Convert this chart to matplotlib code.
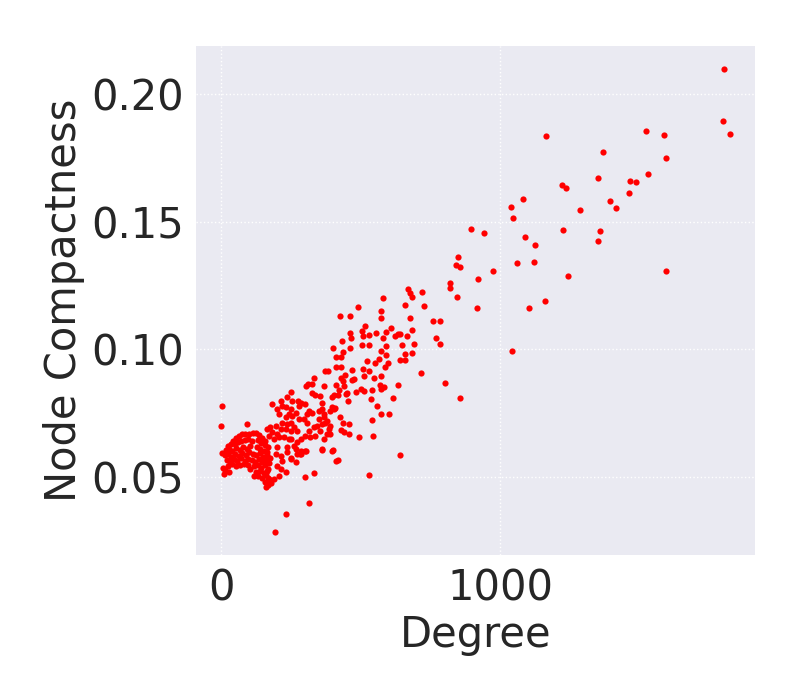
import matplotlib
matplotlib.use("Agg")
import matplotlib.pyplot as plt
import numpy as np

# --- data (Degree, Node Compactness) ---
high_x = [1801, 1798, 1823, 1522, 1587, 1594, 1368, 1350, 1529, 1465, 1486, 1461,
          1393, 1415, 1285, 1358, 1350, 1594, 1165, 1221, 1236, 1082, 1039, 1046,
          1225, 896, 943, 1090, 1125, 1060, 1122, 1243, 850, 842, 857, 975, 921,
          818, 821, 846, 1161, 1104, 918, 670, 675, 685, 721, 660, 725, 678, 757,
          785, 682, 664, 768, 641, 647, 689, 785, 657, 685, 657, 641, 1043, 717,
          800, 857]
high_y = [0.2098, 0.1895, 0.1844, 0.1856, 0.1837, 0.1747, 0.1774, 0.1669, 0.1685,
          0.1657, 0.1654, 0.1611, 0.1580, 0.1552, 0.1546, 0.1463, 0.1424, 0.1307,
          0.1833, 0.1642, 0.1630, 0.1587, 0.1557, 0.1513, 0.1466, 0.1470, 0.1455,
          0.1439, 0.1408, 0.1338, 0.1342, 0.1287, 0.1361, 0.1330, 0.1322, 0.1307,
          0.1276, 0.1260, 0.1240, 0.1205, 0.1190, 0.1163, 0.1163, 0.1238, 0.1221,
          0.1205, 0.1225, 0.1174, 0.1170, 0.1124, 0.1112, 0.1112, 0.1077, 0.1053,
          0.1046, 0.1061, 0.1018, 0.1022, 0.1022, 0.0983, 0.0987, 0.0960, 0.0960,
          0.0995, 0.0909, 0.0870, 0.0808]

mid_x = [578, 489, 571, 571, 424, 460, 514, 607, 503, 553, 589, 635, 624, 460, 463,
         506, 531, 578, 431, 503, 528, 589, 399, 460, 574, 435, 589, 410, 428, 564,
         521, 549, 596, 585, 410, 428, 467, 506, 528, 442, 510, 546, 571, 428, 435,
         467, 474, 410, 438, 567, 571, 582, 632, 421, 499, 510, 539, 481, 446, 403,
         396, 417, 614, 535, 453, 396, 406, 557, 424, 571, 600, 539, 435, 456, 428,
         438, 456, 492, 542, 391, 391, 400, 410, 417, 639, 528]
mid_y = [0.1201, 0.1166, 0.1151, 0.1124, 0.1131, 0.1131, 0.1092, 0.1085, 0.1073,
         0.1065, 0.1069, 0.1061, 0.1053, 0.1065, 0.1046, 0.1053, 0.1057, 0.1046,
         0.1034, 0.1018, 0.1018, 0.1014, 0.1007, 0.1007, 0.0995, 0.0991, 0.0979,
         0.0972, 0.0972, 0.0964, 0.0956, 0.0948, 0.0948, 0.0933, 0.0933, 0.0933,
         0.0921, 0.0925, 0.0917, 0.0901, 0.0897, 0.0890, 0.0894, 0.0890, 0.0878,
         0.0882, 0.0886, 0.0862, 0.0855, 0.0862, 0.0847, 0.0851, 0.0859, 0.0843,
         0.0847, 0.0839, 0.0843, 0.0835, 0.0827, 0.0820, 0.0812, 0.0820, 0.0808,
         0.0804, 0.0800, 0.0773, 0.0769, 0.0777, 0.0734, 0.0749, 0.0746, 0.0722,
         0.0714, 0.0710, 0.0683, 0.0675, 0.0668, 0.0656, 0.0660, 0.0699, 0.0668,
         0.0605, 0.0562, 0.0566, 0.0586, 0.0508]

sparse_x = [2, 0, 192, 231, 313, 299, 331, 92, 2, 4, 9, 161, 179, 117, 168, 180, 213,
            248, 360, 303, 266, 248, 281]
sparse_y = [0.0777, 0.0699, 0.0286, 0.0356, 0.0399, 0.0500, 0.0516, 0.0708, 0.0594,
            0.0536, 0.0513, 0.0461, 0.0477, 0.0504, 0.0497, 0.0788, 0.0799, 0.0834,
            0.0606, 0.0602, 0.0558, 0.0575, 0.0590]

low_x = [371, 381, 331, 310, 325, 304, 367, 253, 325, 337, 355, 361, 451, 274, 284,
         278, 301, 313, 325, 307, 349, 361, 367, 391, 403, 248, 253, 266, 278, 295,
         307, 248, 260, 272, 248, 313, 331, 343, 361, 373, 349, 367, 379, 385, 379,
         367, 355, 337, 319, 301, 284, 272, 248, 260, 266, 284, 301, 361, 397, 272,
         284, 248,
         236, 218, 200, 206, 230, 242, 230, 218, 236, 230, 212, 194, 176, 164, 182,
         200, 170, 188, 206, 224, 242, 236, 200, 194, 212, 236, 230, 212, 200, 218,
         206, 188]
low_y = [0.0915, 0.0915, 0.0890, 0.0864, 0.0864, 0.0857, 0.0855, 0.0799, 0.0831,
         0.0821, 0.0818, 0.0792, 0.0831, 0.0799, 0.0792, 0.0779, 0.0786, 0.0760,
         0.0753, 0.0747, 0.0760, 0.0766, 0.0747, 0.0760, 0.0766, 0.0766, 0.0740,
         0.0753, 0.0727, 0.0727, 0.0714, 0.0714, 0.0695, 0.0682, 0.0682, 0.0682,
         0.0695, 0.0701, 0.0708, 0.0714, 0.0727, 0.0734, 0.0721, 0.0688, 0.0669,
         0.0649, 0.0682, 0.0662, 0.0656, 0.0662, 0.0649, 0.0636, 0.0649, 0.0623,
         0.0610, 0.0604, 0.0604, 0.0610, 0.0604, 0.0591, 0.0591, 0.0571,
         0.0814, 0.0779, 0.0766, 0.0749, 0.0773, 0.0747, 0.0734, 0.0714, 0.0708,
         0.0688, 0.0688, 0.0701, 0.0695, 0.0688, 0.0675, 0.0669, 0.0662, 0.0649,
         0.0656, 0.0656, 0.0649, 0.0617, 0.0617, 0.0591, 0.0584, 0.0597, 0.0519,
         0.0532, 0.0545, 0.0565, 0.0506, 0.0494]

# dense cluster at small degree
blob_x = [40, 52, 63, 74, 86, 99, 112, 124, 136, 147, 156,
          22, 33, 47, 60, 71, 84, 97, 108, 131, 143, 158, 168,
          15, 27, 39, 52, 66, 79, 91, 104, 128, 140, 152, 165,
          12, 24, 36, 49, 62, 75, 88, 100, 113, 125, 137, 149, 162, 174,
          19, 31, 44, 57, 70, 83, 96, 109, 121, 134, 146, 159, 171,
          23, 37, 52, 66, 81, 95, 118, 131, 143, 156, 168,
          14, 28, 104, 124, 139, 152, 165,
          131, 147, 160, 171,
          155, 167, 174]
blob_y = [0.0640, 0.0652, 0.0660, 0.0668, 0.0671, 0.0670, 0.0674, 0.0672, 0.0665,
          0.0655, 0.0643,
          0.0622, 0.0630, 0.0628, 0.0636, 0.0641, 0.0645, 0.0650, 0.0640, 0.0645,
          0.0632, 0.0626, 0.0620,
          0.0605, 0.0611, 0.0603, 0.0614, 0.0608, 0.0619, 0.0612, 0.0622, 0.0617,
          0.0610, 0.0604, 0.0598,
          0.0585, 0.0592, 0.0580, 0.0590, 0.0583, 0.0595, 0.0588, 0.0597, 0.0591,
          0.0586, 0.0594, 0.0581, 0.0587, 0.0576,
          0.0566, 0.0560, 0.0571, 0.0563, 0.0574, 0.0565, 0.0572, 0.0567, 0.0561,
          0.0570, 0.0558, 0.0568, 0.0555,
          0.0545, 0.0550, 0.0542, 0.0548, 0.0553, 0.0546, 0.0544, 0.0549, 0.0538,
          0.0547, 0.0534,
          0.0528, 0.0522, 0.0531, 0.0520, 0.0526, 0.0517, 0.0523,
          0.0505, 0.0498, 0.0507, 0.0494,
          0.0482, 0.0470, 0.0485]

degree = np.array(high_x + mid_x + sparse_x + low_x + blob_x, dtype=float)
compact = np.array(high_y + mid_y + sparse_y + low_y + blob_y, dtype=float)

# --- plot ---
text_color = "#262626"
fig = plt.figure(figsize=(8, 7), dpi=100)
ax = fig.add_axes([0.245, 0.207, 0.699, 0.728])
ax.set_facecolor("#EAEAF2")
for s in ax.spines.values():
    s.set_visible(False)

ax.scatter(degree, compact, s=20, color="red", linewidths=0, zorder=3)

ax.set_xticks([0, 1000])
ax.set_yticks([0.05, 0.10, 0.15, 0.20])
ax.set_yticklabels(["0.05", "0.10", "0.15", "0.20"])
ax.grid(True, color="white", linestyle=":", linewidth=1.0, zorder=0)
ax.set_axisbelow(True)
ax.tick_params(axis="both", length=0, labelsize=30, colors=text_color, pad=9)
ax.set_xlabel("Degree", fontsize=30, color=text_color, labelpad=3)
ax.set_ylabel("Node Compactness", fontsize=30, color=text_color, labelpad=4)

fig.savefig("out.png", dpi=100, facecolor="white")
